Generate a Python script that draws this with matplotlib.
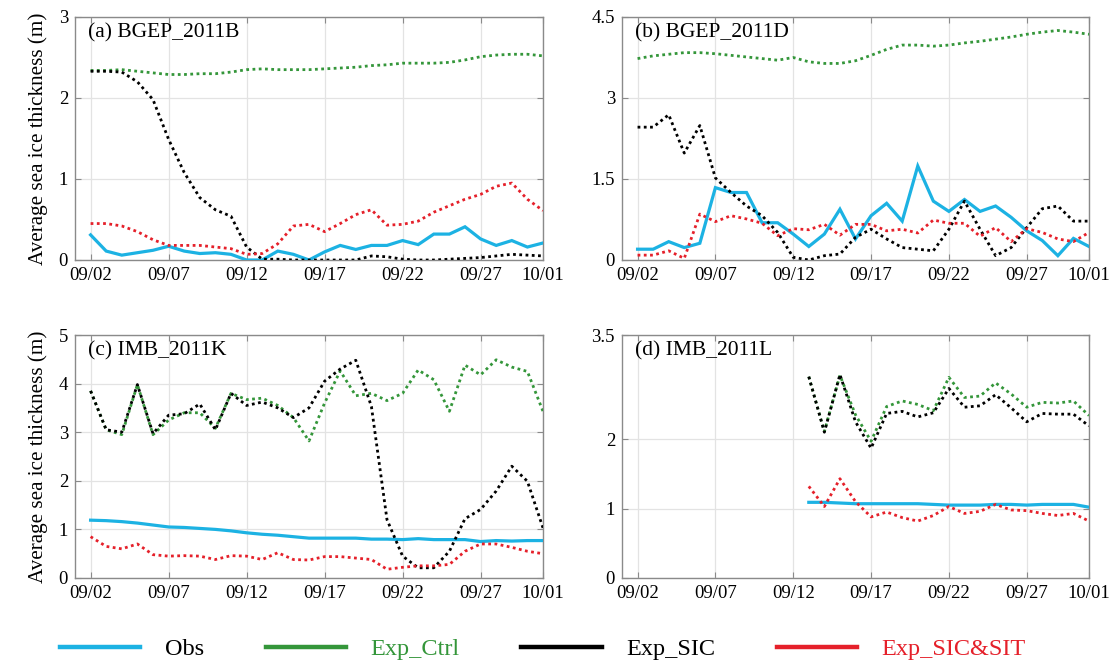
import numpy as np
import pandas as pd
import matplotlib
matplotlib.use("Agg")
import matplotlib.pyplot as plt
import matplotlib.dates as mdates
from matplotlib.lines import Line2D

plt.rcParams["font.family"] = ["Liberation Serif", "DejaVu Serif"]

# Daily dates, 2 Sep – 1 Oct 2011
dates = pd.date_range("2011-09-02", "2011-10-01", freq="D")
n = np.nan

series_names = ["Obs", "Exp_Ctrl", "Exp_SIC", "Exp_SIC&SIT"]
series_colors = ["#1cb2e3", "#34963a", "#000000", "#e5202a"]
label_colors = ["#000000", "#34963a", "#000000", "#e5202a"]

# (a) BGEP_2011B
a_obs = [0.31, 0.11, 0.06, 0.09, 0.12, 0.17, 0.11, 0.08, 0.09, 0.07, 0.00, 0.00, 0.11, 0.07, 0.00,
         0.10, 0.18, 0.13, 0.18, 0.18, 0.24, 0.19, 0.32, 0.32, 0.41, 0.26, 0.18, 0.24, 0.16, 0.21]
a_ctrl = [2.34, 2.34, 2.35, 2.33, 2.31, 2.29, 2.29, 2.30, 2.30, 2.32, 2.35, 2.36, 2.35, 2.35, 2.35,
          2.36, 2.37, 2.38, 2.40, 2.41, 2.43, 2.43, 2.43, 2.44, 2.47, 2.51, 2.53, 2.54, 2.54, 2.52]
a_sic = [2.33, 2.33, 2.32, 2.20, 1.98, 1.49, 1.08, 0.77, 0.62, 0.54, 0.16, 0.01, 0.01, 0.00, 0.00,
         0.00, 0.00, 0.00, 0.05, 0.04, 0.01, 0.00, 0.00, 0.01, 0.02, 0.03, 0.05, 0.07, 0.06, 0.05]
a_sit = [0.45, 0.45, 0.42, 0.35, 0.25, 0.18, 0.18, 0.18, 0.16, 0.14, 0.07, 0.08, 0.20, 0.42, 0.44,
         0.35, 0.45, 0.56, 0.62, 0.43, 0.44, 0.48, 0.59, 0.67, 0.75, 0.81, 0.91, 0.95, 0.75, 0.61]

# (b) BGEP_2011D
b_obs = [0.20, 0.20, 0.34, 0.23, 0.31, 1.34, 1.25, 1.25, 0.69, 0.69, 0.48, 0.25, 0.48, 0.94, 0.39,
         0.82, 1.05, 0.72, 1.74, 1.09, 0.90, 1.12, 0.90, 1.00, 0.79, 0.54, 0.36, 0.08, 0.40, 0.25]
b_ctrl = [3.73, 3.78, 3.81, 3.84, 3.84, 3.82, 3.79, 3.76, 3.73, 3.70, 3.75, 3.67, 3.64, 3.64, 3.69,
          3.79, 3.90, 3.98, 3.98, 3.96, 3.98, 4.02, 4.05, 4.09, 4.13, 4.18, 4.22, 4.25, 4.22, 4.18]
b_sic = [2.46, 2.46, 2.69, 1.98, 2.49, 1.52, 1.25, 1.00, 0.82, 0.51, 0.05, 0.00, 0.08, 0.11, 0.42,
         0.57, 0.39, 0.23, 0.20, 0.17, 0.57, 1.09, 0.57, 0.08, 0.23, 0.60, 0.95, 1.00, 0.72, 0.72]
b_sit = [0.09, 0.09, 0.17, 0.03, 0.85, 0.71, 0.82, 0.76, 0.68, 0.45, 0.58, 0.56, 0.66, 0.46, 0.66,
         0.66, 0.54, 0.57, 0.50, 0.74, 0.68, 0.68, 0.44, 0.60, 0.34, 0.58, 0.51, 0.39, 0.34, 0.51]

# (c) IMB_2011K
c_obs = [1.19, 1.18, 1.16, 1.13, 1.09, 1.05, 1.04, 1.02, 1.00, 0.97, 0.93, 0.90, 0.88, 0.85, 0.82,
         0.82, 0.82, 0.82, 0.80, 0.80, 0.79, 0.81, 0.79, 0.79, 0.79, 0.75, 0.77, 0.76, 0.77, 0.77]
c_ctrl = [3.85, 3.05, 2.95, 3.98, 2.95, 3.25, 3.40, 3.40, 3.08, 3.80, 3.67, 3.70, 3.55, 3.30, 2.82,
          3.60, 4.26, 3.75, 3.80, 3.65, 3.80, 4.28, 4.08, 3.43, 4.38, 4.18, 4.49, 4.34, 4.25, 3.43]
c_sic = [3.85, 3.05, 3.00, 3.98, 2.97, 3.35, 3.38, 3.58, 3.05, 3.80, 3.55, 3.62, 3.50, 3.30, 3.50,
         4.05, 4.30, 4.48, 3.53, 1.20, 0.45, 0.21, 0.21, 0.55, 1.22, 1.41, 1.79, 2.30, 1.99, 1.03]
c_sit = [0.85, 0.65, 0.60, 0.70, 0.48, 0.45, 0.46, 0.45, 0.38, 0.46, 0.45, 0.38, 0.52, 0.38, 0.37,
         0.44, 0.44, 0.41, 0.38, 0.18, 0.22, 0.25, 0.25, 0.28, 0.55, 0.70, 0.70, 0.63, 0.55, 0.50]

# (d) IMB_2011L (records begin 13 Sep)
d_obs = [n] * 11 + [1.09, 1.09, 1.08, 1.07, 1.07, 1.07, 1.07, 1.07, 1.06, 1.05,
                    1.05, 1.05, 1.06, 1.06, 1.05, 1.06, 1.06, 1.06, 1.02]
d_ctrl = [n] * 11 + [2.90, 2.11, 2.92, 2.35, 1.97, 2.47, 2.55, 2.50, 2.41, 2.89,
                     2.60, 2.62, 2.81, 2.65, 2.46, 2.53, 2.52, 2.55, 2.34]
d_sic = [n] * 11 + [2.90, 2.10, 2.93, 2.25, 1.87, 2.37, 2.40, 2.32, 2.38, 2.73,
                    2.46, 2.48, 2.64, 2.45, 2.25, 2.37, 2.36, 2.36, 2.19]
d_sit = [n] * 11 + [1.32, 1.03, 1.43, 1.10, 0.88, 0.95, 0.87, 0.82, 0.90, 1.03,
                    0.93, 0.96, 1.06, 0.98, 0.97, 0.93, 0.90, 0.93, 0.82]

panel_titles = ["(a) BGEP_2011B", "(b) BGEP_2011D", "(c) IMB_2011K", "(d) IMB_2011L"]
panel_data = [
    [a_obs, a_ctrl, a_sic, a_sit],
    [b_obs, b_ctrl, b_sic, b_sit],
    [c_obs, c_ctrl, c_sic, c_sit],
    [d_obs, d_ctrl, d_sic, d_sit],
]
panel_yticks = [[0, 1, 2, 3], [0, 1.5, 3, 4.5], [0, 1, 2, 3, 4, 5], [0, 1, 2, 3.5]]
panel_yticklabels = [["0", "1", "2", "3"], ["0", "1.5", "3", "4.5"],
                     ["0", "1", "2", "3", "4", "5"], ["0", "1", "2", "3.5"]]
xtick_dates = pd.to_datetime(["2011-09-02", "2011-09-07", "2011-09-12", "2011-09-17",
                              "2011-09-22", "2011-09-27", "2011-10-01"])

W, H = 1110, 663
fig = plt.figure(figsize=(W / 100, H / 100), dpi=100)

# axes boxes in pixels: left, top, right, bottom
boxes = [(75, 17, 543, 260), (622, 17, 1089, 260),
         (75, 335, 543, 578), (622, 335, 1089, 578)]

box_color = "#8a8a8a"
for i, (l, t, r, b) in enumerate(boxes):
    ax = fig.add_axes([l / W, 1 - b / H, (r - l) / W, (b - t) / H])
    ax.grid(True, color="#e3e3e3", linewidth=0.9, zorder=0)
    ax.set_axisbelow(True)
    for j, vals in enumerate(panel_data[i]):
        y = np.array(vals, dtype=float)
        if j == 0:
            ax.plot(dates, y, color=series_colors[j], lw=2.3, solid_joinstyle="miter", zorder=3)
        else:
            ax.plot(dates, y, color=series_colors[j], lw=2.0,
                    linestyle=(0, (1.0, 1.25)), zorder=3)
    ax.set_xlim(pd.Timestamp("2011-09-01"), pd.Timestamp("2011-10-01"))
    yt = panel_yticks[i]
    ax.set_ylim(yt[0], yt[-1])
    ax.set_yticks(yt)
    ax.set_yticklabels(panel_yticklabels[i])
    ax.set_xticks(xtick_dates)
    ax.xaxis.set_major_formatter(mdates.DateFormatter("%m/%d"))
    ax.tick_params(direction="in", length=4, width=0.8, color=box_color,
                   top=True, right=True, labelsize=13.5, pad=5)
    for s in ax.spines.values():
        s.set_color(box_color)
        s.set_linewidth(1.0)
    ax.text(0.028, 0.975, panel_titles[i], transform=ax.transAxes, ha="left", va="top",
            fontsize=15.5, zorder=5)
    if i in (0, 2):
        ax.set_ylabel("Average sea ice thickness (m)", fontsize=15.2, labelpad=8)

handles = [Line2D([], [], color=c, lw=3.2) for c in series_colors]
fig.legend(handles, series_names, loc="center left", bbox_to_anchor=(48 / W, 1 - 649 / H),
           ncol=4, frameon=False, fontsize=17.5, handlelength=3.3, handletextpad=1.0,
           columnspacing=2.55, borderpad=0, labelcolor=label_colors)

fig.savefig("out.png", dpi=100)
